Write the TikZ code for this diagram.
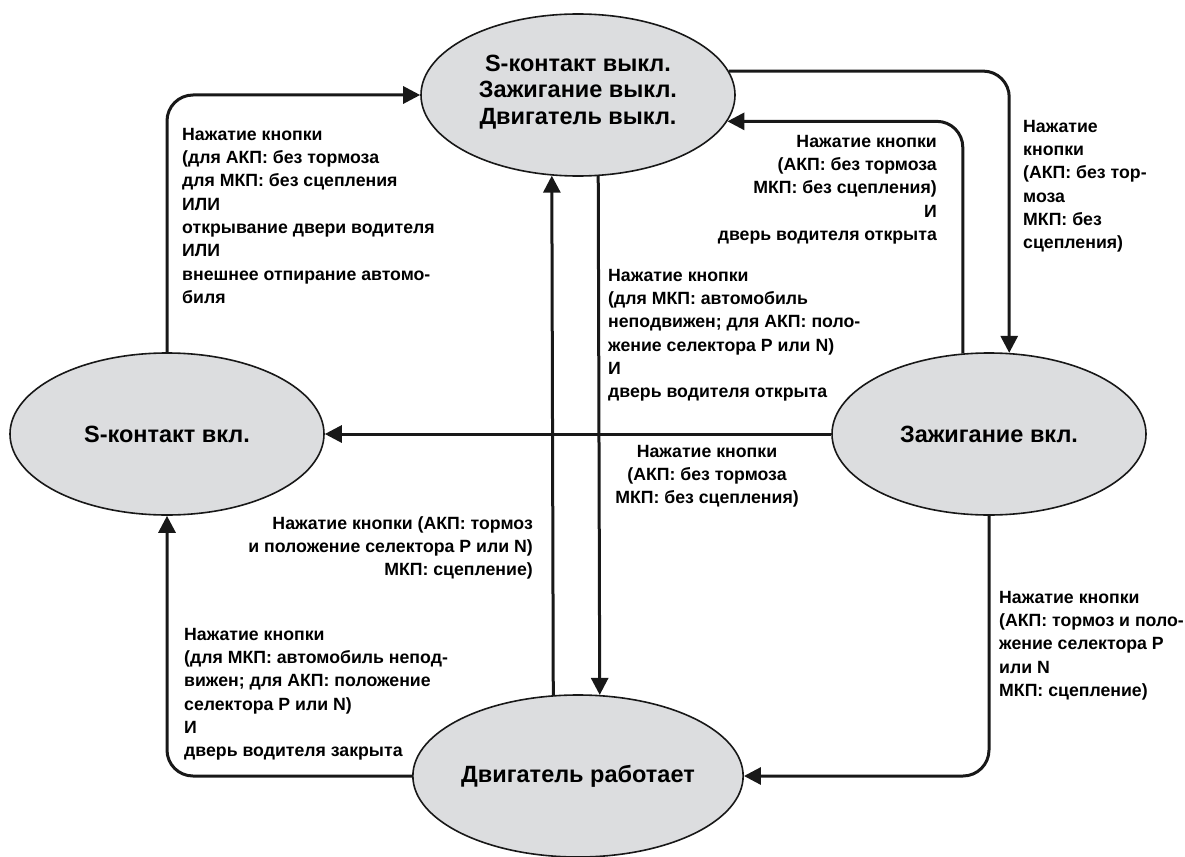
\documentclass[tikz,border=0pt]{standalone}
\usepackage{fontspec}
\setmainfont{Liberation Sans}
\usetikzlibrary{arrows.meta,shapes.geometric}
\definecolor{statefill}{RGB}{220,221,223}
\definecolor{ink}{RGB}{24,24,24}
\tikzset{
  state/.style={ellipse, draw=ink, line width=1.6pt, fill=statefill,
    minimum width=314pt, minimum height=162pt, inner sep=0pt,
    align=center, font=\bfseries\fontsize{23.5}{26.5}\selectfont},
  statetext/.style={align=center, inner sep=0pt, text=black,
    font=\bfseries\fontsize{23.5}{26.5}\selectfont},
  conn/.style={draw=ink, line width=3pt, rounded corners=26pt,
    -{Triangle[length=17pt,width=17pt]}},
  lbl/.style={inner sep=0pt, text=black, font=\bfseries\fontsize{17.7}{23.3}\selectfont},
}
\begin{document}
\begin{tikzpicture}[x=1pt,y=-1pt]
\useasboundingbox (0,0) rectangle (1185,856);

% states
\node[state] (off) at (578,95) {};
\node[statetext] (offtext) at (578,92) {S-контакт выкл.\\Зажигание выкл.\\Двигатель выкл.};
\node[state] (son) at (167,434) {S-контакт вкл.};
\node[state] (ign) at (989,434) {Зажигание вкл.};
\node[state] (eng) at (578,776) {Двигатель работает};

% transitions
\draw[conn] (son.north) |- (off.west);
\draw[conn] (off.9.5) -| (ign.76.7);
\draw[conn] (ign.108) |- (off.-10.7);
\draw[conn] (eng.107.8) -- (off.252.9);
\draw[conn] (off.-76.2) -- (eng.75.7);
\draw[conn] (ign.west) -- (son.east);
\draw[conn] (eng.west) -| (son.south);
\draw[conn] (ign.south) |- (eng.east);

% conditions
\node[lbl, anchor=north west, align=left] (la) at (182,128) {Нажатие кнопки\\(для АКП: без тормоза\\для МКП: без сцепления\\ИЛИ\\открывание двери водителя\\ИЛИ\\внешнее отпирание автомо-\\биля};
\node[lbl, anchor=north east, align=right] (lb) at (937,135) {Нажатие кнопки\\(АКП: без тормоза\\МКП: без сцепления)\\И\\дверь водителя открыта};
\node[lbl, anchor=north west, align=left] (lc) at (1023,120) {Нажатие\\кнопки\\(АКП: без тор-\\моза\\МКП: без\\сцепления)};
\node[lbl, anchor=north west, align=left] (ld) at (608,269) {Нажатие кнопки\\(для МКП: автомобиль\\неподвижен; для АКП: поло-\\жение селектора P или N)\\И\\дверь водителя открыта};
\node[lbl, anchor=north, align=center] (le) at (707,445) {Нажатие кнопки\\(АКП: без тормоза\\МКП: без сцепления)};
\node[lbl, anchor=north east, align=right] (lf) at (533,516) {Нажатие кнопки (АКП: тормоз\\и положение селектора P или N)\\МКП: сцепление)};
\node[lbl, anchor=north west, align=left] (lg) at (184,628) {Нажатие кнопки\\(для МКП: автомобиль непод-\\вижен; для АКП: положение\\селектора P или N)\\И\\дверь водителя закрыта};
\node[lbl, anchor=north west, align=left] (lh) at (999,591) {Нажатие кнопки\\(АКП: тормоз и поло-\\жение селектора P\\или N\\МКП: сцепление)};
\end{tikzpicture}
\end{document}
